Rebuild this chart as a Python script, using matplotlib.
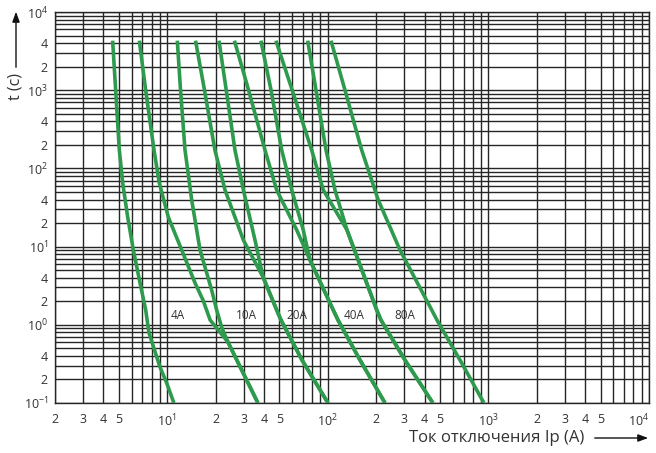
import matplotlib
matplotlib.use('Agg')
import matplotlib.pyplot as plt
from matplotlib.ticker import LogLocator, FixedLocator, NullFormatter

plt.rcParams['font.family'] = ['Open Sans', 'DejaVu Sans']
plt.rcParams['mathtext.default'] = 'regular'

# ------------------------- данные (ток, А / время, с) -------------------------
c1_i = [4.57, 5.03, 5.28, 5.67, 6.15, 6.77, 7.34, 7.70, 9.01, 9.92, 11.0]
c1_t = [4300, 172, 65.1, 23.9, 9.05, 3.42, 1.55, 0.785, 0.289, 0.180, 0.1]

c2_i = [6.70, 7.34, 8.27, 8.92, 10.15, 12.3, 14.9, 16.7, 18.5, 23.9, 36.7]
c2_t = [4300, 1000, 172, 65.1, 23.9, 9.05, 3.42, 2.07, 1.15, 0.60, 0.1]

c3_i = [11.55, 12.1, 12.9, 14.2, 16.0, 18.9, 20.3, 21.9, 23.9, 36.7]
c3_t = [4300, 1000, 172, 39.4, 9.05, 2.79, 1.55, 0.91, 0.60, 0.1]

c4_i = [15.0, 17.06, 19.8, 22.9, 29.8, 39.5, 48.0, 51.1, 69.0, 100.2]
c4_t = [4300, 1000, 172, 52.9, 12.1, 4.08, 1.55, 1.15, 0.355, 0.1]

c5_i = [21.0, 23.3, 26.4, 29.8, 35.2, 39.5, 48.0, 51.1, 69.0, 100.2]
c5_t = [4300, 1000, 172, 52.9, 12.1, 4.08, 1.55, 1.15, 0.355, 0.1]

c6_i = [26.2, 32.1, 40.6, 48.0, 64.0, 77.4, 108, 115.7, 158.5, 227]
c6_t = [4300, 1000, 172, 52.9, 16.3, 6.74, 1.55, 1.15, 0.355, 0.1]

c7_i = [38.3, 44.3, 51.6, 59.6, 70.3, 77.4, 108, 115.7, 158.5, 227]
c7_t = [4300, 1000, 172, 52.9, 16.3, 6.74, 1.55, 1.15, 0.355, 0.1]

c8_i = [47.5, 60.0, 79.3, 93.7, 131.6, 201.5, 214.2, 302, 451]
c8_t = [4300, 1000, 172, 52.9, 16.3, 1.55, 1.15, 0.355, 0.1]

c9_i = [74.9, 84.4, 97.4, 110.8, 131.6, 201.5, 214.2, 302, 451]
c9_t = [4300, 1000, 172, 52.9, 16.3, 1.55, 1.15, 0.355, 0.1]

c10_i = [104.6, 127.9, 162.4, 206.1, 281.3, 443.3, 478.3, 665, 938]
c10_t = [4300, 1000, 172, 39.4, 9.05, 1.55, 1.15, 0.355, 0.1]

rating_names = ['4A', '10A', '20A', '40A', '80A']
rating_x = [11.7, 31.1, 64.1, 145, 301]
rating_y = 1.33

x_ticks = [2, 3, 4, 5, 10, 20, 30, 40, 50, 100, 200, 300, 400, 500,
           1000, 2000, 3000, 4000, 5000, 10000]
x_labels = ['2', '3', '4', '5', r'$10^{1}$', '2', '3', '4', '5', r'$10^{2}$',
            '2', '3', '4', '5', r'$10^{3}$', '2', '3', '4', '5', r'$10^{4}$']
y_ticks = [0.1, 0.2, 0.4, 1, 2, 4, 10, 20, 40, 100, 200, 400,
           1000, 2000, 4000, 10000]
y_labels = [r'$10^{-1}$', '2', '4', r'$10^{0}$', '2', '4', r'$10^{1}$', '2', '4',
            r'$10^{2}$', '2', '4', r'$10^{3}$', '2', '4', r'$10^{4}$']
# ------------------------------------------------------------------------------

green = '#2e9a4d'
grid_c = '#262626'

fig = plt.figure(figsize=(6.56, 4.53), dpi=100)
ax = fig.add_axes([55/656, 50/453, 594/656, 391/453])
ax.set_xscale('log')
ax.set_yscale('log')
ax.set_xlim(2, 1e4)
ax.set_ylim(0.1, 1e4)

ax.xaxis.set_major_locator(FixedLocator(x_ticks))
ax.set_xticklabels(x_labels)
ax.yaxis.set_major_locator(FixedLocator(y_ticks))
ax.set_yticklabels(y_labels)
ax.xaxis.set_minor_locator(LogLocator(base=10, subs=range(2, 10), numticks=50))
ax.yaxis.set_minor_locator(LogLocator(base=10, subs=range(2, 10), numticks=50))
ax.xaxis.set_minor_formatter(NullFormatter())
ax.yaxis.set_minor_formatter(NullFormatter())
ax.tick_params(which='both', length=0, labelsize=9, colors='#333333')
ax.tick_params(axis='x', pad=7)
ax.tick_params(axis='y', pad=5)
ax.get_xticklabels()[-1].set_horizontalalignment('right')

ax.grid(True, which='both', color=grid_c, linewidth=1.0)
for s in ax.spines.values():
    s.set_color(grid_c)
    s.set_linewidth(1.0)

curves = [(c1_i, c1_t), (c2_i, c2_t), (c3_i, c3_t), (c4_i, c4_t), (c5_i, c5_t),
          (c6_i, c6_t), (c7_i, c7_t), (c8_i, c8_t), (c9_i, c9_t), (c10_i, c10_t)]
for ci, ct in curves:
    ax.plot(ci, ct, color=green, linewidth=2.6, solid_capstyle='butt',
            solid_joinstyle='round', zorder=3)

for name, xv in zip(rating_names, rating_x):
    ax.text(xv, rating_y, name, fontsize=8.5, color='#333333',
            ha='center', va='center', zorder=4)

# подписи осей со стрелками
fig.text(16/656, 1 - 86/453, 't (c)', rotation=90, fontsize=11.5,
         color='#333333', ha='center', va='center')
fig.add_artist(matplotlib.patches.FancyArrowPatch(
    (16/656, 1 - 70/453), (16/656, 1 - 9/453), transform=fig.transFigure,
    arrowstyle='-|>,head_length=6,head_width=2.2', color='#111111', linewidth=1.0))

fig.text(497/656, 1 - 438/453, 'Ток отключения Ip (A)', fontsize=12,
         color='#333333', ha='center', va='center')
fig.add_artist(matplotlib.patches.FancyArrowPatch(
    (592/656, 1 - 438/453), (651/656, 1 - 438/453), transform=fig.transFigure,
    arrowstyle='-|>,head_length=6,head_width=2.2', color='#111111', linewidth=1.0))

fig.savefig('out.png', dpi=100)
